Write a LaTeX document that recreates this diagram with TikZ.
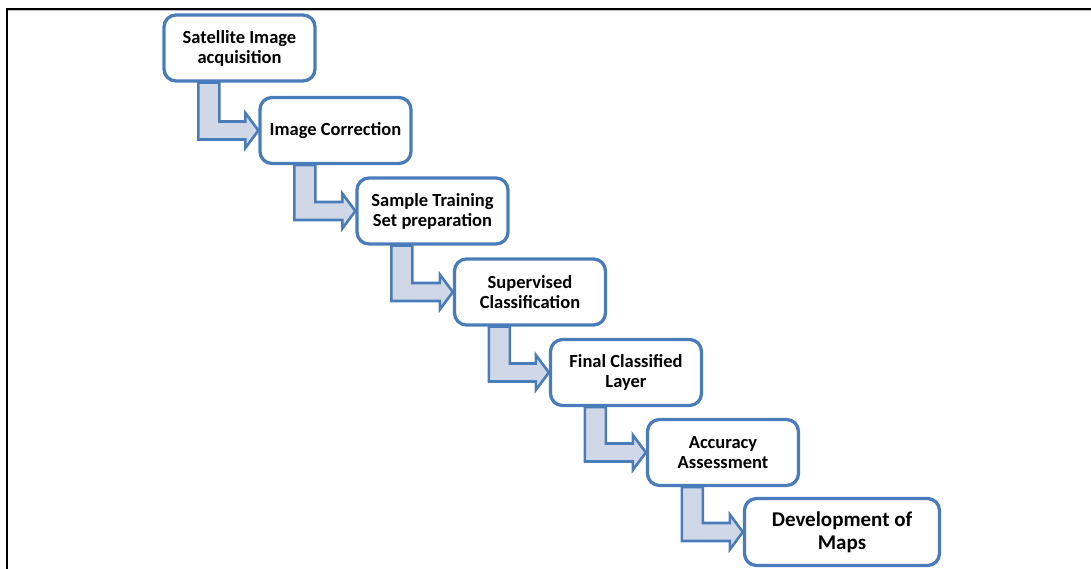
\documentclass[tikz,border=0pt]{standalone}
\usepackage{fontspec}
\setmainfont{Carlito}
\usetikzlibrary{calc,backgrounds}
\definecolor{boxblue}{RGB}{74,124,186}
\definecolor{arrowfill}{RGB}{208,216,232}
\tikzset{
  stage/.style={draw=boxblue, line width=3.3pt, fill=white, rounded corners=12pt,
    minimum width=151pt, minimum height=66pt, inner sep=2pt, align=center,
    font=\fontsize{18.5}{20}\selectfont\bfseries},
  bentarrow/.style={draw=boxblue, fill=arrowfill, line width=2.6pt, line join=miter},
}
% bent block arrow from the bottom of #1 to the left side of #2
\newcommand{\stepflow}[2]{%
  \draw[bentarrow]
    ([xshift=36pt]#1.south west)
    -- ($([xshift=36pt]#1.south west |- #2.west)+(0,-9)$)
    -- ($(#2.west)+(-13,-9)$)
    -- ($(#2.west)+(-13,-17.5)$)
    -- (#2.west)
    -- ($(#2.west)+(-13,17.5)$)
    -- ($(#2.west)+(-13,9)$)
    -- ($([xshift=57pt]#1.south west |- #2.west)+(0,9)$)
    -- ([xshift=57pt]#1.south west)
    -- cycle;}
\begin{document}
\begin{tikzpicture}[x=1pt,y=1pt]
\useasboundingbox (0,0) rectangle (1091,-569);
% frame lines along the top and the left
\draw[line width=2pt] (6,-9) -- (1091,-9);
\draw[gray!50, line width=1pt] (8,-10.8) -- (1091,-10.8);
\draw[line width=2pt] (7,-9) -- (7,-569);

\node[stage] (s1) at (239.5,-48)  {Satellite Image\\acquisition};
\node[stage] (s2) at (335.5,-130.5) {Image Correction};
\node[stage] (s3) at (432.5,-211) {Sample Training\\Set preparation};
\node[stage] (s4) at (530,-292)   {Supervised\\Classification};
\node[stage] (s5) at (626,-372.5) {Final Classified\\Layer};
\node[stage] (s6) at (723,-452.5) {Accuracy\\Assessment};
\node[stage, minimum width=195pt, minimum height=67pt,
      font=\fontsize{21}{23}\selectfont\bfseries] (s7) at (842,-532) {Development of\\Maps};

\begin{scope}[on background layer]
  \stepflow{s1}{s2}
  \stepflow{s2}{s3}
  \stepflow{s3}{s4}
  \stepflow{s4}{s5}
  \stepflow{s5}{s6}
  \stepflow{s6}{s7}
\end{scope}
\end{tikzpicture}
\end{document}
